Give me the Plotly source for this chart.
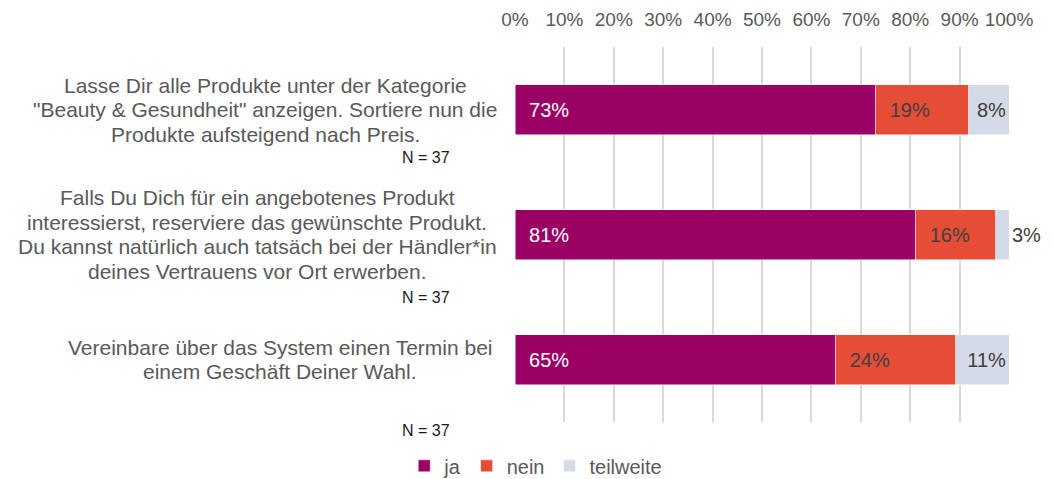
import plotly.graph_objects as go

questions = [
    'Lasse Dir alle Produkte unter der Kategorie<br>"Beauty & Gesundheit" anzeigen. Sortiere nun die<br>Produkte aufsteigend nach Preis.',
    'Falls Du Dich für ein angebotenes Produkt<br>interessierst, reserviere das gewünschte Produkt.<br>Du kannst natürlich auch tatsäch bei der Händler*in<br>deines Vertrauens vor Ort erwerben.',
    'Vereinbare über das System einen Termin bei<br>einem Geschäft Deiner Wahl.',
]
ja = [73.0, 81.1, 64.9]
nein = [18.9, 16.2, 24.3]
teilweise = [8.1, 2.7, 10.8]
n_labels = ['N = 37', 'N = 37', 'N = 37']

font_family = 'Liberation Sans, Arial, sans-serif'
grey = '#595959'
dark = '#404040'
pad = '\u00a0\u00a0'

fig = go.Figure()
fig.add_trace(go.Bar(
    y=questions, x=ja, name='ja', orientation='h',
    marker=dict(color='#9B0064', line=dict(color='white', width=0.5)),
    text=[f'{pad}{v:.0f}%' for v in ja], textposition='inside',
    insidetextanchor='start',
    textfont=dict(color='white', size=20, family=font_family),
))
fig.add_trace(go.Bar(
    y=questions, x=nein, name='nein', orientation='h',
    marker=dict(color='#E64D36', line=dict(color='white', width=0.5)),
    text=[f'{pad}{v:.0f}%' for v in nein], textposition='inside',
    insidetextanchor='start',
    textfont=dict(color=dark, size=20, family=font_family),
))
fig.add_trace(go.Bar(
    y=questions, x=teilweise, name='teilweite', orientation='h',
    marker=dict(color='#D5DAE7', line=dict(color='white', width=0.5)),
    text=[f'{v:.0f}%' for v in teilweise],
    textposition=['inside' if v > 5 else 'outside' for v in teilweise],
    insidetextanchor='end',
    textfont=dict(color=dark, size=20, family=font_family),
    cliponaxis=False,
))

# question labels: centred lines, left of the bars
label_centers = [-0.506, -0.522, -0.475]
line_step = 24.5
for q, xc in zip(questions, label_centers):
    lines = q.split('<br>')
    mid = (len(lines) - 1) / 2
    for i, line in enumerate(lines):
        fig.add_annotation(
            text=line, xref='paper', yref='y', x=xc, y=q,
            xanchor='center', yanchor='middle', showarrow=False,
            yshift=-(i - mid) * line_step,
            font=dict(size=21, color=grey, family=font_family),
        )

# N = 37 notes under each question
n_pos = [0.706, 0.332, -0.023]
for label, yp in zip(n_labels, n_pos):
    fig.add_annotation(
        text=label, xref='paper', yref='paper', x=-0.1275, y=yp,
        xanchor='right', yanchor='middle', showarrow=False,
        font=dict(size=16, color='#1a1a1a', family=font_family),
    )

fig.update_xaxes(
    side='top', range=[0, 100], dtick=10, ticksuffix='%',
    showgrid=True, gridcolor='#D9D9D9', gridwidth=1.5,
    zeroline=False, showline=False, ticklabelstandoff=16,
    automargin=False,
    tickfont=dict(size=19, color=grey, family=font_family),
)
fig.update_yaxes(
    autorange='reversed', showticklabels=False, automargin=False,
    showgrid=False, showline=False,
)
fig.update_layout(
    width=1045, height=471,
    barmode='stack', bargap=0.6,
    margin=dict(l=507, r=44, t=39, b=57),
    plot_bgcolor='white', paper_bgcolor='white',
    font=dict(family=font_family, color=grey),
    showlegend=True,
    legend=dict(
        orientation='h', xref='container', yref='container',
        x=0.505, xanchor='center', y=0.028, yanchor='middle',
        font=dict(size=20, color=grey, family=font_family),
        itemwidth=30, traceorder='normal',
    ),
)

fig.write_html('out.html')
